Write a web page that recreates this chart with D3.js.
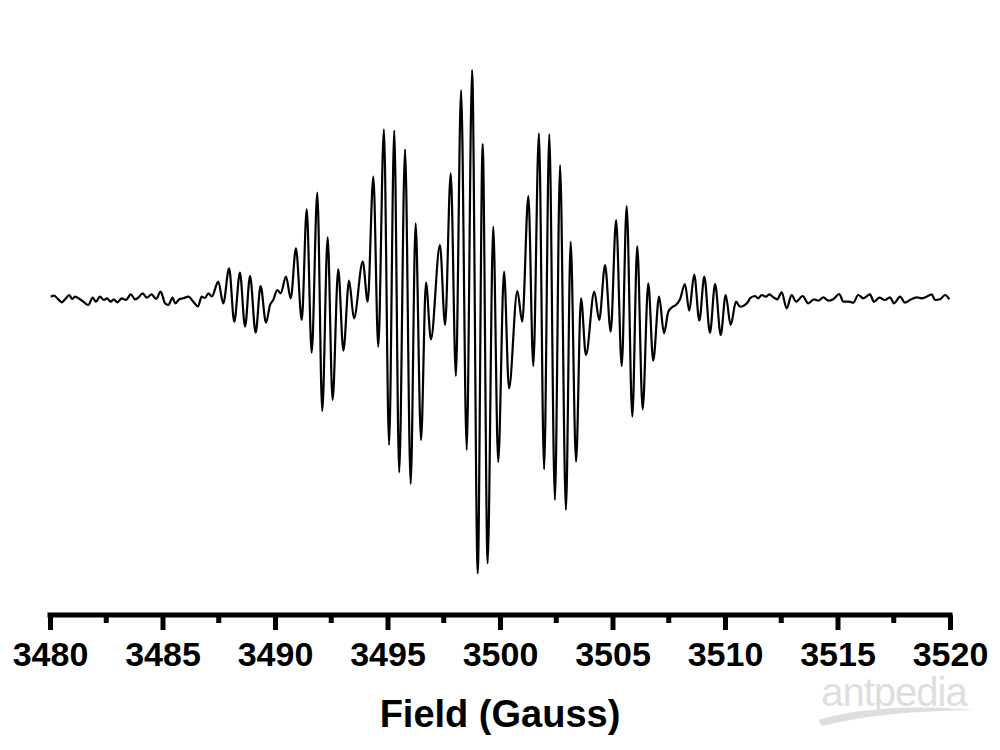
<!DOCTYPE html>
<html>
<head>
<meta charset="utf-8">
<script src="https://cdn.jsdelivr.net/npm/d3@7"></script>
<style>
  body { margin: 0; background: #fff; }
</style>
</head>
<body>
<div id="chart"></div>
<script>
// EPR spectrum: field (G) and intensity (a.u.)
const field = [
  3480.03, 3480.18, 3480.37, 3480.52, 3480.67, 3480.86, 3480.98, 3481.11, 3481.33, 3481.48,
  3481.70, 3481.90, 3482.04, 3482.22, 3482.40, 3482.53, 3482.70, 3482.84, 3482.99, 3483.19,
  3483.38, 3483.59, 3483.78, 3483.92, 3484.12, 3484.30, 3484.52, 3484.71, 3484.92, 3485.11,
  3485.26, 3485.45, 3485.56, 3485.75, 3485.92, 3486.15, 3486.37, 3486.58, 3486.74, 3486.89,
  3487.04, 3487.19, 3487.48, 3487.70, 3487.96, 3488.19, 3488.44, 3488.67, 3488.89, 3489.14,
  3489.36, 3489.60, 3489.78, 3489.92, 3490.10, 3490.25, 3490.49, 3490.70, 3490.93, 3491.19,
  3491.41, 3491.63, 3491.88, 3492.10, 3492.34, 3492.56, 3492.81, 3493.04, 3493.29, 3493.51,
  3493.90, 3494.12, 3494.37, 3494.59, 3494.84, 3495.07, 3495.30, 3495.52, 3495.78, 3496.03,
  3496.25, 3496.49, 3496.71, 3496.93, 3497.33, 3497.56, 3497.81, 3498.04, 3498.27, 3498.52,
  3498.76, 3499.01, 3499.23, 3499.45, 3499.70, 3499.92, 3500.18, 3500.40, 3500.77, 3500.99,
  3501.26, 3501.48, 3501.73, 3501.96, 3502.19, 3502.44, 3502.67, 3502.93, 3503.14, 3503.38,
  3503.60, 3503.82, 3504.19, 3504.41, 3504.67, 3504.92, 3505.16, 3505.41, 3505.63, 3505.88,
  3506.10, 3506.34, 3506.59, 3506.81, 3507.07, 3507.29, 3507.48, 3507.68, 3507.82, 3508.00,
  3508.22, 3508.41, 3508.63, 3508.86, 3509.08, 3509.33, 3509.56, 3509.81, 3510.03, 3510.25,
  3510.49, 3510.67, 3510.81, 3511.03, 3511.11, 3511.33, 3511.48, 3511.63, 3511.82, 3511.97,
  3512.15, 3512.32, 3512.52, 3512.74, 3512.96, 3513.16, 3513.45, 3513.70, 3513.96, 3514.15,
  3514.37, 3514.59, 3514.81, 3515.08, 3515.26, 3515.52, 3515.70, 3515.92, 3516.15, 3516.44,
  3516.62, 3516.86, 3517.11, 3517.33, 3517.51, 3517.78, 3518.00, 3518.22, 3518.52, 3518.74,
  3518.96, 3519.19, 3519.33, 3519.56, 3519.78, 3519.97
];

const intensity = [
  1.3, 2.3, -1.3, -4.3, -1.3, 3, -1, 1.3, -1.3, -3.7,
  -7, 0.3, -3.7, 1.3, -2, -0.3, -3.7, -1.3, -4.3, -0.3,
  -2, 3.7, -1.3, 0.3, 4.7, 0.3, 3.7, -1, 6.3, -5.3,
  -7, 0.3, -5.3, -1.3, -0.3, 1.3, -3.7, -8.5, 1.3, 0,
  4.7, 1.5, 16.3, -5.3, 29.7, -23.7, 25.3, -28.7, 22, -34.7,
  12, -24.7, -7, -2, 8, 4.7, 21.3, -0.3, 49.7, -22,
  88.7, -54.7, 105.3, -113, 60.7, -102, 28.7, -52.7, 17.3, -20.3,
  36.3, -3.7, 121.3, -48.7, 168.7, -147, 167.3, -174.5, 148.7, -186,
  74.7, -142, 15.3, -41.3, 53, -27, 124.7, -78, 208, -152,
  228, -275.3, 154, -265.3, 71.5, -164, 26.3, -90.3, 7, -23.7,
  102, -68, 164.7, -171.3, 164, -202, 133, -212, 56.3, -163.7,
  -0.3, -57, 6.3, -22, 33, -33.7, 78, -68, 92, -118.7,
  52, -111.3, 14.7, -62.7, 1.3, -35.3, -13.7, -8.7, -7, -1.3,
  14, -12.7, 23.5, -22.5, 21.3, -34.7, 14, -37, 3, -27,
  -3.7, -8.7, -8, -3.7, -0.3, 2, -0.3, 3, 1.3, 3.7,
  0.7, -1.3, 5.7, -10.3, 3, -3.7, 2, -5.3, -1.3, -2.7,
  0.7, -2.7, -1.3, 4, -3.7, -3.7, -4.7, 3, -0.3, 3.7,
  -3.7, 0.3, -2, 0.7, -5.3, 1.3, -4.7, -2, 0.7, -0.3,
  1.3, 3.7, -2, -1.3, 3, -1.3
];

const majorTicks = [3480, 3485, 3490, 3495, 3500, 3505, 3510, 3515, 3520];
const minorTicks = [3482.5, 3487.5, 3492.5, 3497.5, 3502.5, 3507.5, 3512.5, 3517.5];
const xLabel = 'Field (Gauss)';

let width = 1000,
  height = 750;

let x = d3.scaleLinear()
  .domain([3480, 3520])
  .range([50, 950]);

let y = d3.scaleLinear()
  .domain([-250, 250])
  .range([548, 48]);

const axisY = 615;

function chart() {
  const svg = d3.select('#chart').append('svg')
    .attr('width', width)
    .attr('height', height)
    .style('font-family', 'Arial, "Liberation Sans", sans-serif');

  // watermark
  const wm = svg.append('g').attr('fill', '#dedede');
  wm.append('text')
    .attr('x', 894)
    .attr('y', 706)
    .attr('text-anchor', 'middle')
    .style('font-size', '40px')
    .style('letter-spacing', '-1px')
    .text('antpedia');
  wm.append('path')
    .attr('d', 'M818,720 Q880,702 975,710 Q880,711 822,726 Z');

  // spectrum
  const pts = field.map((f, i) => [f, intensity[i]]);
  const line = d3.line()
    .x(d => x(d[0]))
    .y(d => y(d[1]))
    .curve(d3.curveMonotoneX);

  svg.append('path')
    .datum(pts)
    .attr('fill', 'none')
    .attr('stroke', '#000')
    .attr('stroke-width', 2.2)
    .attr('stroke-linejoin', 'round')
    .attr('d', line);

  // bottom axis
  const axis = svg.append('g')
    .attr('transform', `translate(0,${axisY})`)
    .call(d3.axisBottom(x)
      .tickValues(majorTicks)
      .tickSize(15)
      .tickPadding(12)
      .tickFormat(d3.format('d')));

  axis.select('.domain')
    .attr('d', `M${x(3480)},0H${x(3520)}`)
    .attr('stroke-width', 5)
    .attr('stroke-linecap', 'square');
  axis.selectAll('.tick line').attr('stroke-width', 5);
  axis.selectAll('.tick text')
    .attr('fill', '#000')
    .style('font-size', '34px')
    .style('font-weight', 'bold');

  axis.selectAll('.minor')
    .data(minorTicks)
    .enter().append('line')
    .attr('class', 'minor')
    .attr('x1', d => x(d))
    .attr('x2', d => x(d))
    .attr('y1', 0)
    .attr('y2', 8)
    .attr('stroke', '#000')
    .attr('stroke-width', 5);

  svg.append('text')
    .attr('x', 500)
    .attr('y', 727)
    .attr('text-anchor', 'middle')
    .style('font-size', '38px')
    .style('font-weight', 'bold')
    .text(xLabel);

  return svg.node();
}

chart();
</script>
</body>
</html>
